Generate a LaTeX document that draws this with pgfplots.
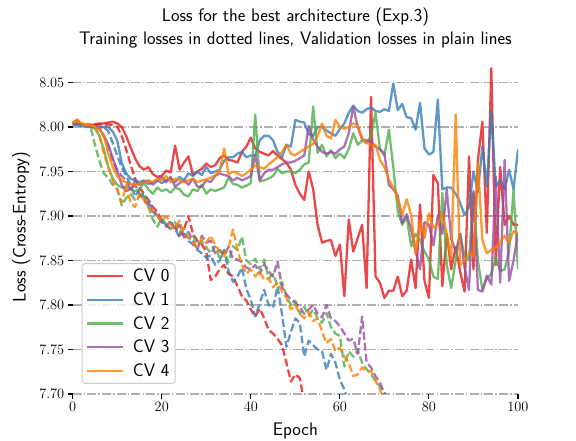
\documentclass[border=0pt]{standalone}
\usepackage{pgfplots}
\usepackage{pgfplotstable}
\pgfplotsset{compat=1.18}
\definecolor{c0}{HTML}{E41A1C}
\definecolor{c1}{HTML}{377EB8}
\definecolor{c2}{HTML}{4DAF4A}
\definecolor{c3}{HTML}{984EA3}
\definecolor{c4}{HTML}{FF7F00}
\definecolor{gridc}{HTML}{B0B0B0}
\definecolor{legc}{HTML}{CCCCCC}

\pgfplotstableread{
e v0 v1 v2 v3 v4
0 8.003 8.003 8.005 8.004 8.005
1 8.004 8.002 8.007 8.006 8.008
2 8.003 8.001 8.003 8.003 8.004
3 8.003 8.000 8.002 8.002 8.002
4 8.002 8.000 8.000 8.000 8.002
5 8.003 8.000 7.998 8.000 8.000
6 8.004 7.999 7.990 7.998 7.998
7 8.004 8.000 7.975 7.990 7.990
8 8.005 8.000 7.955 7.980 7.970
9 8.006 7.995 7.942 7.965 7.955
10 8.004 7.985 7.935 7.950 7.945
11 8.000 7.960 7.932 7.935 7.940
12 7.990 7.948 7.933 7.928 7.938
13 7.977 7.942 7.930 7.930 7.936
14 7.965 7.940 7.928 7.939 7.935
15 7.956 7.938 7.930 7.935 7.936
16 7.952 7.940 7.937 7.938 7.937
17 7.955 7.936 7.930 7.940 7.940
18 7.947 7.938 7.925 7.935 7.938
19 7.944 7.940 7.932 7.940 7.942
20 7.945 7.937 7.928 7.944 7.940
21 7.951 7.940 7.930 7.938 7.945
22 7.949 7.942 7.926 7.944 7.938
23 7.979 7.938 7.932 7.933 7.942
24 7.952 7.944 7.930 7.937 7.940
25 7.960 7.940 7.924 7.940 7.938
26 7.967 7.948 7.922 7.935 7.940
27 7.946 7.945 7.930 7.942 7.942
28 7.950 7.950 7.928 7.933 7.938
29 7.953 7.946 7.935 7.933 7.940
30 7.959 7.955 7.925 7.940 7.941
31 7.955 7.948 7.930 7.938 7.943
32 7.957 7.950 7.928 7.945 7.946
33 7.965 7.952 7.930 7.948 7.950
34 7.968 7.962 7.932 7.946 7.976
35 7.963 7.966 7.943 7.945 7.947
36 7.962 7.966 7.936 7.940 7.950
37 7.960 7.970 7.935 7.943 7.948
38 7.972 7.972 7.932 7.940 7.945
39 7.978 7.966 7.934 7.942 7.948
40 7.988 7.968 7.937 7.945 7.952
41 7.976 7.968 8.014 7.969 7.957
42 7.972 7.985 7.939 7.940 7.955
43 7.970 7.990 7.940 7.948 7.953
44 7.968 7.990 7.942 7.952 7.958
45 7.973 7.985 7.945 7.952 7.962
46 7.968 7.972 7.953 7.955 7.966
47 7.964 7.966 7.948 7.958 7.972
48 7.960 7.980 7.950 7.960 7.980
49 7.952 7.978 7.950 7.960 7.970
50 7.935 8.008 7.948 7.962 7.968
51 7.925 8.006 7.952 7.965 7.972
52 7.918 8.005 7.958 7.968 7.975
53 7.950 7.992 7.960 8.001 7.978
54 7.930 7.990 8.023 7.986 7.981
55 7.890 8.000 7.971 7.978 7.990
56 7.870 8.000 7.980 7.972 8.004
57 7.872 7.996 7.967 7.970 7.990
58 7.873 7.993 7.974 7.972 7.987
59 7.855 7.990 7.965 7.970 8.008
60 7.868 7.998 7.970 7.975 8.000
61 7.810 8.004 7.965 7.978 7.998
62 7.896 8.016 7.975 7.993 8.000
63 7.860 8.024 7.993 8.023 8.004
64 7.875 8.018 7.980 8.000 8.002
65 7.890 8.016 7.985 7.986 7.987
66 7.819 8.020 7.982 7.985 7.982
67 8.034 8.022 7.990 7.983 7.980
68 7.832 8.018 8.016 7.978 7.980
69 7.825 8.017 7.975 7.975 7.963
70 7.808 8.020 7.968 7.970 7.955
71 7.816 8.018 7.997 7.935 7.941
72 7.816 8.049 7.955 7.930 7.932
73 7.832 8.019 7.905 7.923 7.920
74 7.810 8.026 7.890 7.892 7.901
75 7.816 8.011 7.899 7.902 7.919
76 7.851 8.010 7.866 7.885 7.901
77 7.819 7.997 7.880 7.860 7.858
78 7.913 8.027 7.873 7.840 7.895
79 7.827 7.976 7.860 7.893 7.875
80 7.808 7.969 7.851 7.890 7.903
81 7.946 7.972 7.832 7.867 7.887
82 7.937 8.031 7.829 7.901 7.890
83 7.821 7.930 7.926 7.880 7.903
84 7.880 7.932 7.845 7.930 7.880
85 7.840 7.932 7.819 7.875 7.851
86 7.865 7.925 7.850 7.860 8.014
87 7.838 7.915 7.880 7.880 7.845
88 7.815 7.901 7.855 7.842 7.850
89 7.967 7.910 7.850 7.817 7.858
90 7.840 7.950 7.926 7.928 7.855
91 7.963 7.927 7.850 7.817 7.960
92 8.006 7.978 7.817 7.815 7.873
93 7.881 7.933 7.830 7.833 7.858
94 8.066 8.019 7.835 7.823 7.862
95 7.845 7.933 7.853 7.944 7.865
96 7.955 7.940 7.838 7.825 7.870
97 7.890 7.930 7.840 7.963 7.878
98 7.900 7.952 7.860 7.827 7.870
99 7.890 7.930 7.930 7.850 7.883
100 7.890 7.975 7.840 7.881 7.881
}\valtab

\pgfplotstableread{
e t0 t1 t2 t3 t4
0 8.003 8.004 8.005 8.004 8.005
1 8.004 8.003 8.008 8.005 8.006
2 8.003 8.003 8.004 8.003 8.004
3 8.002 8.002 8.002 8.002 8.003
4 8.003 8.002 8.000 8.001 8.002
5 8.002 8.001 7.980 8.000 8.000
6 8.003 8.000 7.962 7.998 7.990
7 8.002 8.000 7.948 7.990 7.970
8 8.003 7.995 7.943 7.978 7.955
9 8.002 7.982 7.935 7.962 7.940
10 8.000 7.968 7.930 7.952 7.930
11 7.990 7.955 7.912 7.945 7.915
12 7.975 7.945 7.920 7.940 7.935
13 7.958 7.935 7.925 7.930 7.915
14 7.942 7.922 7.918 7.935 7.910
15 7.932 7.930 7.922 7.925 7.925
16 7.925 7.922 7.926 7.918 7.918
17 7.918 7.915 7.910 7.912 7.910
18 7.910 7.908 7.896 7.905 7.905
19 7.905 7.900 7.888 7.900 7.900
20 7.895 7.895 7.898 7.893 7.895
21 7.890 7.890 7.890 7.888 7.900
22 7.885 7.893 7.885 7.895 7.890
23 7.888 7.885 7.893 7.885 7.886
24 7.878 7.876 7.882 7.890 7.895
25 7.885 7.880 7.886 7.876 7.880
26 7.900 7.872 7.875 7.882 7.876
27 7.880 7.868 7.878 7.872 7.870
28 7.872 7.862 7.868 7.862 7.865
29 7.868 7.858 7.872 7.878 7.875
30 7.860 7.853 7.865 7.870 7.870
31 7.828 7.856 7.858 7.872 7.878
32 7.832 7.845 7.866 7.858 7.868
33 7.840 7.850 7.852 7.862 7.860
34 7.845 7.862 7.860 7.856 7.855
35 7.835 7.838 7.848 7.865 7.865
36 7.832 7.826 7.866 7.852 7.885
37 7.821 7.832 7.862 7.851 7.862
38 7.810 7.842 7.877 7.848 7.845
39 7.805 7.818 7.850 7.842 7.835
40 7.795 7.806 7.846 7.840 7.840
41 7.787 7.787 7.852 7.845 7.832
42 7.796 7.802 7.840 7.835 7.838
43 7.785 7.817 7.851 7.846 7.828
44 7.772 7.800 7.830 7.838 7.830
45 7.768 7.797 7.835 7.832 7.820
46 7.762 7.821 7.822 7.849 7.825
47 7.755 7.790 7.826 7.820 7.815
48 7.735 7.753 7.810 7.812 7.808
49 7.714 7.770 7.800 7.806 7.795
50 7.722 7.785 7.805 7.802 7.800
51 7.718 7.780 7.790 7.798 7.790
52 7.690 7.742 7.798 7.790 7.785
53 nan 7.760 7.788 7.795 7.792
54 nan 7.755 7.795 7.800 7.782
55 nan 7.750 7.785 7.790 7.785
56 nan 7.748 7.780 7.786 7.770
57 nan 7.727 7.791 7.800 7.757
58 nan 7.745 7.775 7.785 7.762
59 nan 7.735 7.768 7.782 7.748
60 nan 7.716 7.765 7.776 7.752
61 nan 7.705 7.731 7.768 7.742
62 nan 7.690 7.748 7.760 7.735
63 nan nan 7.742 7.762 7.720
64 nan nan 7.750 7.745 7.722
65 nan nan 7.735 7.787 7.730
66 nan nan 7.728 7.735 7.725
67 nan nan 7.722 7.730 7.726
68 nan nan 7.715 7.720 7.715
69 nan nan 7.708 7.713 7.705
70 nan nan 7.703 7.700 7.690
71 nan nan 7.690 7.690 nan
}\traintab

\pgfplotsset{
  val/.style={line width=2.3bp, opacity=0.8, line join=round},
  trn/.style={line width=2.3bp, opacity=0.8, line join=round, dash pattern=on 7.7bp off 3.3bp, forget plot},
}

\begin{document}
\begin{tikzpicture}
\path[use as bounding box] (-72.7bp,-47bp) rectangle (503.3bp,394bp);
\begin{axis}[
  at={(0,0)}, anchor=south west,
  scale only axis, width=445.3bp, height=333.75bp,
  xmin=0, xmax=100, ymin=7.70, ymax=8.075,
  axis line style={draw=none},
  xtick={0,20,40,60,80,100},
  ytick={7.70,7.75,7.80,7.85,7.90,7.95,8.00,8.05},
  yticklabel style={/pgf/number format/.cd, fixed, fixed zerofill, precision=2},
  xtick pos=left, ytick pos=left,
  tick align=outside,
  major tick length=4.9bp,
  tick style={black, line width=1.1bp},
  ticklabel style={font=\fontsize{15.5}{17}\selectfont},
  ymajorgrids,
  major grid style={gridc, line width=1.4bp, dash pattern=on 8.9bp off 2.2bp on 1.4bp off 2.2bp},
  xlabel={Epoch},
  ylabel={Loss (Cross-Entropy)},
  label style={font=\sffamily\fontsize{18.3}{21}\selectfont},
  xlabel style={at={(axis description cs:0.5,0)}, anchor=base, yshift=-41bp},
  ylabel style={at={(axis description cs:-0.1056,0.5)}, anchor=base},
  legend style={at={(0.02,0.03)}, anchor=south west, draw=legc, line width=1bp,
    rounded corners=3bp, fill=white, fill opacity=0.8, text opacity=1,
    font=\sffamily\fontsize{18.3}{21}\selectfont,
    inner xsep=4bp, inner ysep=4bp, row sep=6.5bp, column sep=7bp,
    nodes={inner sep=1.5bp}},
  legend cell align=left,
  legend image code/.code={\draw[#1] (0bp,0bp) -- (36bp,0bp);},
]
\addplot[c0, trn] table[x=e, y=t0] {\traintab};
\addplot[c0, val] table[x=e, y=v0] {\valtab};
\addlegendentry{CV 0}
\addplot[c1, trn] table[x=e, y=t1] {\traintab};
\addplot[c1, val] table[x=e, y=v1] {\valtab};
\addlegendentry{CV 1}
\addplot[c2, trn] table[x=e, y=t2] {\traintab};
\addplot[c2, val] table[x=e, y=v2] {\valtab};
\addlegendentry{CV 2}
\addplot[c3, trn] table[x=e, y=t3] {\traintab};
\addplot[c3, val] table[x=e, y=v3] {\valtab};
\addlegendentry{CV 3}
\addplot[c4, trn] table[x=e, y=t4] {\traintab};
\addplot[c4, val] table[x=e, y=v4] {\valtab};
\addlegendentry{CV 4}
\end{axis}
\node[anchor=base, font=\sffamily\fontsize{18.2}{21}\selectfont] at (222.65bp,372bp) {Loss for the best architecture (Exp.3)};
\node[anchor=base, font=\sffamily\fontsize{18.2}{21}\selectfont] at (222.65bp,349bp) {Training losses in dotted lines, Validation losses in plain lines};
\end{tikzpicture}
\end{document}
